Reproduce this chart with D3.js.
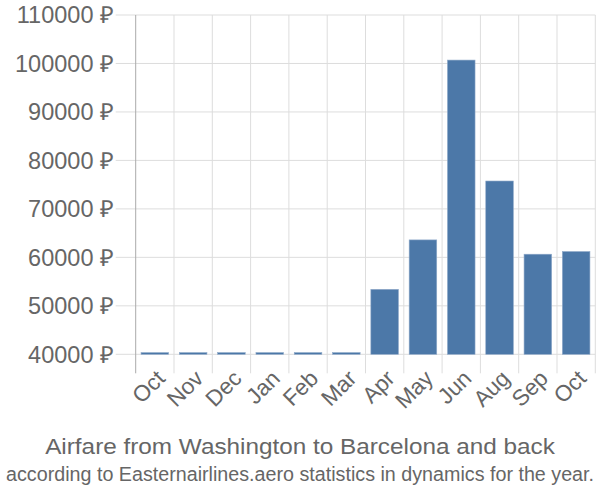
<!DOCTYPE html>
<html><head><meta charset="utf-8">
<script src="https://cdn.jsdelivr.net/npm/d3@7/dist/d3.min.js"></script>
<style>body{margin:0;background:#fff}svg{display:block}</style>
</head><body>
<svg id="c" width="600" height="500"></svg>
<script>
const categories = ["Oct","Nov","Dec","Jan","Feb","Mar","Apr","May","Jun","Aug","Sep","Oct "];
const values = [40350,40350,40350,40350,40350,40350,53400,63600,100700,75750,60650,61200];
const yTicks = [40000,50000,60000,70000,80000,90000,100000,110000];
const title = "Airfare from Washington to Barcelona and back";
const subtitle = "according to Easternairlines.aero statistics in dynamics for the year.";

const svg = d3.select("#c");
const L = 135.7, R = 595.3, T = 15, B = 354.3;
const font = "'Liberation Sans', Arial, sans-serif";
const x = d3.scaleBand().domain(categories).range([L, R]).paddingInner(0.28).paddingOuter(0.14);
const y = d3.scaleLinear().domain([40000, 110000]).range([B, T]);
const step = x.step();

// horizontal grid
svg.append("g").selectAll("line").data(yTicks).join("line")
  .attr("x1", L - 20).attr("x2", R).attr("y1", d => y(d)).attr("y2", d => y(d))
  .attr("stroke", "#dddddd").attr("stroke-width", 1);
// vertical grid at band boundaries
svg.append("g").selectAll("line").data(d3.range(1, categories.length + 1)).join("line")
  .attr("x1", i => L + i * step).attr("x2", i => L + i * step)
  .attr("y1", T).attr("y2", B + 19)
  .attr("stroke", "#dddddd").attr("stroke-width", 1);
// y axis line
svg.append("line").attr("x1", L).attr("x2", L).attr("y1", T).attr("y2", B + 19)
  .attr("stroke", "#aaaaaa").attr("stroke-width", 1);

// bars
svg.append("g").selectAll("rect").data(values).join("rect")
  .attr("x", (d, i) => x(categories[i])).attr("width", x.bandwidth())
  .attr("y", d => y(d)).attr("height", d => y(40000) - y(d))
  .attr("fill", "#4c78a8").attr("stroke", "#8fa9c9").attr("stroke-width", 0.6);

// y labels
svg.append("g").selectAll("text").data(yTicks).join("text")
  .attr("x", 114).attr("y", d => y(d)).attr("dy", "0.35em")
  .attr("text-anchor", "end").attr("fill", "#666").attr("font-family", font)
  .attr("font-size", 23.5).text(d => d + " ₽");

// x labels
svg.append("g").selectAll("text").data(categories).join("text")
  .attr("transform", d => `translate(${x(d) + x.bandwidth() / 2 + 11.5},${B + 25.5}) rotate(-45)`)
  .attr("text-anchor", "end").attr("fill", "#666").attr("font-family", font)
  .attr("font-size", 22.5).text(d => d.trim());

function fitText(txt, cx, cy, size, targetW) {
  const t = svg.append("text").attr("text-anchor", "middle").attr("fill", "#666")
    .attr("font-family", font).attr("font-size", size).text(txt);
  const w = t.node().getComputedTextLength();
  t.attr("transform", `translate(${cx},${cy}) scale(${targetW / w},1)`);
}
fitText(title, 300, 454, 22, 510);
fitText(subtitle, 300, 481, 21, 588);
</script>
</body></html>
